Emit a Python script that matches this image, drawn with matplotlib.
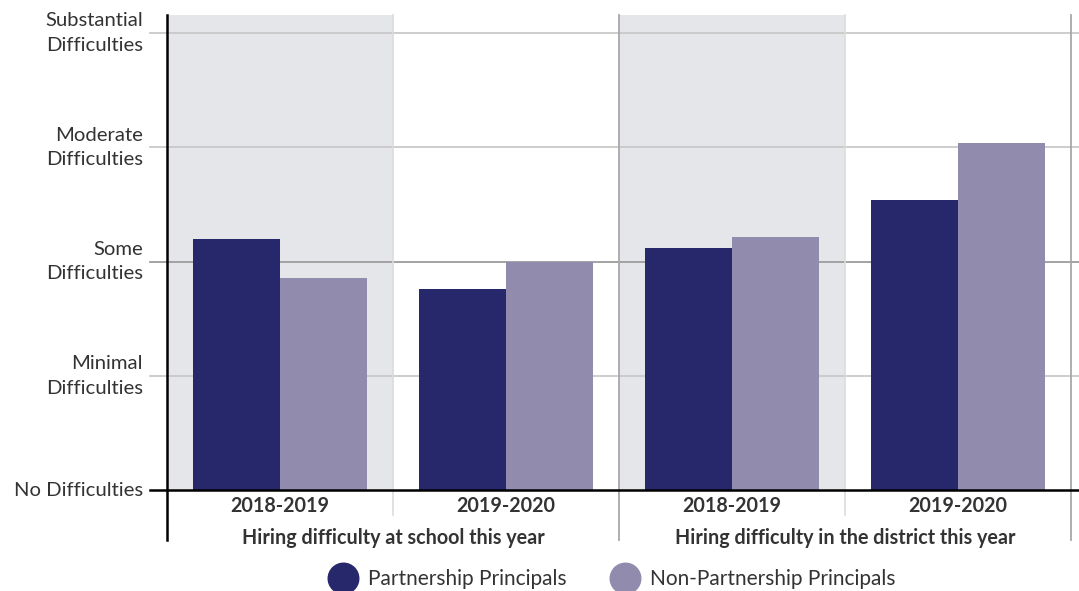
import matplotlib
matplotlib.use("Agg")
import matplotlib.pyplot as plt
from matplotlib.lines import Line2D

# Data
levels = ["No Difficulties", "Minimal\nDifficulties", "Some\nDifficulties",
          "Moderate\nDifficulties", "Substantial\nDifficulties"]
years = ["2018-2019", "2019-2020", "2018-2019", "2019-2020"]
groups = ["Hiring difficulty at school this year",
          "Hiring difficulty in the district this year"]
series_names = ["Partnership Principals", "Non-Partnership Principals"]
partnership = [2.20, 1.76, 2.12, 2.54]
non_partnership = [1.86, 2.00, 2.22, 3.04]

DARK = "#27276b"
LIGHT = "#918bae"
SHADE = "#e5e6e9"
TEXT = "#333333"
FONT = "Lato"

plt.rcParams["font.family"] = [FONT, "DejaVu Sans"]

W, H = 1079, 591
fig = plt.figure(figsize=(W / 100, H / 100), dpi=100)
ax = fig.add_axes([167 / W, 1 - 490 / H, (W - 167) / W, 475 / H])

ax.set_xlim(0, (W - 167) / 226)
ax.set_ylim(0, 4.16)

# shaded blocks behind alternating groups
for x0 in (0, 2):
    ax.axvspan(x0, x0 + 1, color=SHADE, zorder=0, lw=0)

# horizontal grid lines, extended left as tick marks
for lv in range(1, 5):
    c = "#9c9c9c" if lv == 2 else "#c9c9c9"
    ax.axhline(lv, xmin=-0.0186, xmax=1, color=c, lw=1.3, zorder=1, clip_on=False)

# bars
bw = 0.387
xs = [i + 0.5 for i in range(len(years))]
ax.bar([x - bw / 2 for x in xs], partnership, width=bw, color=DARK, zorder=3)
ax.bar([x + bw / 2 for x in xs], non_partnership, width=bw, color=LIGHT, zorder=3)

# vertical separators
ax.axvline(1, ymin=-0.053, ymax=1, color="#dcdcdc", lw=1.2, zorder=2, clip_on=False)
ax.axvline(3, ymin=-0.053, ymax=1, color="#dcdcdc", lw=1.2, zorder=2, clip_on=False)
ax.axvline(2, ymin=-0.105, ymax=1, color="#a8a8a8", lw=1.3, zorder=2, clip_on=False)
ax.axvline(4, ymin=-0.105, ymax=1, color="#a8a8a8", lw=1.3, zorder=2, clip_on=False)

# axis lines
ax.axhline(0, xmin=-0.0186, xmax=1, color="black", lw=1.8, zorder=5, clip_on=False)
ax.axvline(0, ymin=-0.105, ymax=1, color="black", lw=1.8, zorder=5, clip_on=False)

for s in ax.spines.values():
    s.set_visible(False)
ax.set_xticks([])
ax.set_yticks([])

# y labels
for lv, lab in enumerate(levels):
    ax.text(-24 / 226, lv, lab, ha="right", va="center", fontsize=14.6,
            color=TEXT, linespacing=1.55)

# x labels
trans = ax.get_xaxis_transform()
for x, yr in zip(xs, years):
    ax.text(x, -16 / 475, yr, transform=trans, ha="center", va="center",
            fontsize=14.2, fontweight="bold", color=TEXT)
for gi, g in enumerate(groups):
    ax.text(gi * 2 + 1, -48 / 475, g, transform=trans, ha="center", va="center",
            fontsize=14.2, fontweight="bold", color=TEXT)

# legend
for cx, tx, col, name in [(343, 368, DARK, series_names[0]),
                          (625, 650, LIGHT, series_names[1])]:
    fig.add_artist(Line2D([cx / W], [1 - 578 / H], marker="o", markersize=22,
                          color=col, linestyle="none", transform=fig.transFigure))
    fig.text(tx / W, 1 - 579 / H, name, ha="left", va="center", fontsize=15,
             color=TEXT)

fig.savefig("out.png", dpi=100)
